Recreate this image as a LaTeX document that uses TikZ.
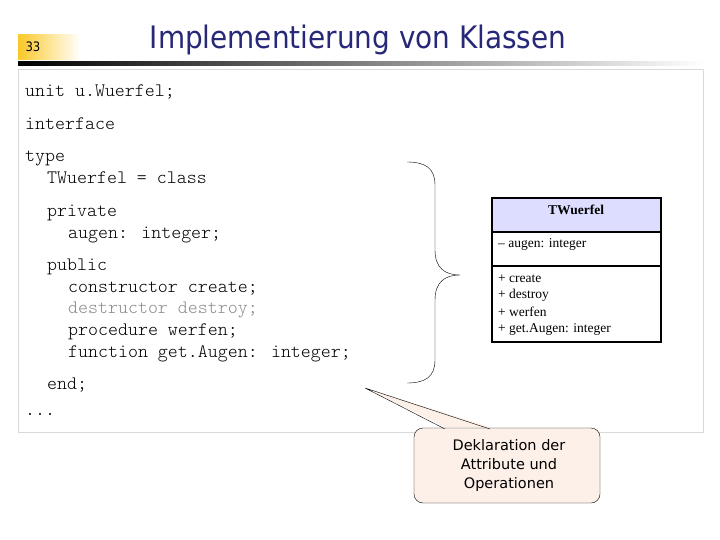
\documentclass[tikz,border=0pt]{standalone}
\usepackage{fontspec}
\setmainfont{Liberation Serif}
\newfontfamily\sansf{DejaVu Sans Condensed}
\newfontfamily\callf{DejaVu Sans}
\newfontfamily\monof{Latin Modern Mono Light}
\definecolor{titleblue}{RGB}{40,40,120}
\definecolor{lav}{RGB}{221,221,255}
\definecolor{callfill}{RGB}{253,240,232}
\definecolor{orng}{RGB}{250,200,40}
\tikzset{code/.style={anchor=base west,inner sep=0pt,font=\monof\fontsize{19}{20}\selectfont},
uml/.style={anchor=west,inner sep=0pt,font=\fontsize{13.5}{15}\selectfont}}
\begin{document}
\begin{tikzpicture}[x=1pt,y=-1pt]
\useasboundingbox (0,0) rectangle (720,540);
\fill[white] (0,0) rectangle (720,540);
% header
\shade[left color=orng,right color=white] (18,35) rectangle (80,60);
\node[inner sep=0pt,font=\sansf\fontsize{13}{15}\selectfont] (num) at (33,47) {33};
\shade[left color=black,right color=white] (18,62) rectangle (705,66);
\node[inner sep=0pt,text=titleblue,font=\sansf\fontsize{31}{36}\selectfont] (title) at (358,40) {Implementierung von Klassen};
% code box
\draw[black!15,fill=white] (18,69) rectangle (703,432);
\node[code] (l1) at (25,97) {unit u.Wuerfel;};
\node[code] (l2) at (25,130) {interface};
\node[code] (l3) at (25,162) {type};
\node[code] (l4) at (47,184) {TWuerfel = class};
\node[code] (l5) at (47,216) {private};
\node[code] (l6) at (68,238) {augen: integer;};
\node[code] (l7) at (47,270) {public};
\node[code] (l8) at (68,292) {constructor create;};
\node[code,text=black!45] (l9) at (68,313) {destructor destroy;};
\node[code] (l10) at (68,335) {procedure werfen;};
\node[code] (l11) at (68,357) {function get.Augen: integer;};
\node[code] (l12) at (47,389) {end;};
\node[code] (l13) at (25,415) {...};
% brace
\coordinate (bt) at (407,162);
\coordinate (bb) at (407,383);
\coordinate (tip) at (460,275);
\draw (bt) .. controls (425,162) and (435,168) .. (435,185) -- (435,250) .. controls (435,268) and (445,275) .. (tip)
      .. controls (445,275) and (435,282) .. (435,300) -- (435,360) .. controls (435,377) and (425,383) .. (bb);
% UML
\draw[line width=2pt,fill=lav] (492,198) rectangle (661,232);
\draw[line width=2pt] (492,232) rectangle (661,266);
\draw[line width=2pt] (492,266) rectangle (661,342);
\node[inner sep=0pt,font=\bfseries\fontsize{13.5}{15}\selectfont] (cn) at (576,210) {TWuerfel};
\node[uml] (a1) at (498,244) {-- augen: integer};
\node[uml] (o1) at (498,279) {+ create};
\node[uml] (o2) at (498,295) {+ destroy};
\node[uml] (o3) at (498,312) {+ werfen};
\node[uml] (o4) at (498,329) {+ get.Augen: integer};
% callout
\coordinate (ptr) at (365,388);
\draw[fill=callfill,rounded corners=9pt] (414,428) rectangle (600,503);
\fill[callfill] (445,427) -- (ptr) -- (490,427) -- cycle;
\draw (445,429) -- (ptr) -- (490,429);
\node[inner sep=0pt,align=center,font=\callf\fontsize{14.5}{19}\selectfont] (ct) at (509,465) {Deklaration der\\Attribute und\\Operationen};
\end{tikzpicture}
\end{document}
